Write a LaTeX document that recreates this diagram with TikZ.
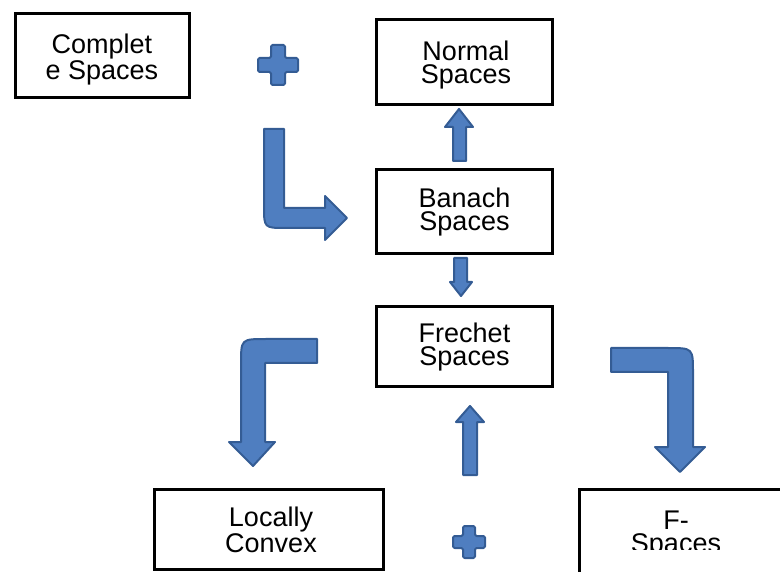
\documentclass[tikz,border=0pt]{standalone}
\usepackage{fontspec}
\setmainfont{Liberation Sans}
\definecolor{arrowfill}{RGB}{79,126,192}
\definecolor{arrowline}{RGB}{52,92,148}
\begin{document}
\begin{tikzpicture}[x=1pt,y=-1pt,
  box/.style={draw=black,line width=3pt,rectangle,inner sep=0pt},
  txt/.style={inner sep=0pt,align=center,font=\fontsize{27}{23}\selectfont},
  blockarrow/.style={fill=arrowfill,draw=arrowline,line width=2pt,line join=round}]
\useasboundingbox (0,0) rectangle (780,572);
\clip (0,0) rectangle (780,572);
% boxes
\node[box,minimum width=174pt,minimum height=84pt] (complete) at (102.5,55.5) {};
\node[box,minimum width=176pt,minimum height=85pt] (normal) at (464.5,62) {};
\node[box,minimum width=176pt,minimum height=84pt] (banach) at (464.5,211.5) {};
\node[box,minimum width=176pt,minimum height=80pt] (frechet) at (464.5,346.5) {};
\node[box,minimum width=229pt,minimum height=80pt] (locally) at (269,529.5) {};
\node[box,minimum width=230pt,minimum height=100pt] (fspaces) at (694,539) {};
% texts
\node[txt] (completetext) at (102,59.5) {Complet\\e Spaces};
\node[txt] (normaltext) at (466,65) {Normal\\Spaces};
\node[txt] (banachtext) at (464.5,212) {Banach\\Spaces};
\node[txt] (frechettext) at (464.5,347) {Frechet\\Spaces};
\node[txt] (locallytext) at (271,530) {Locally\\Convex};
\begin{scope}
  \clip (580,490) rectangle (780,549);
  \node[txt] (ftext) at (676,535) {F-\\Spaces};
\end{scope}
% plus signs
\begin{scope}[shift={(278,65)}]
  \draw[blockarrow,rounded corners=1.5pt] (-7,-20) -- (7,-20) -- (7,-7) -- (20,-7) -- (20,7) -- (7,7) -- (7,20) -- (-7,20) -- (-7,7) -- (-20,7) -- (-20,-7) -- (-7,-7) -- cycle;
\end{scope}
\begin{scope}[shift={(469,542)}]
  \draw[blockarrow,rounded corners=1.5pt] (-6,-16) -- (6,-16) -- (6,-6) -- (16,-6) -- (16,6) -- (6,6) -- (6,16) -- (-6,16) -- (-6,6) -- (-16,6) -- (-16,-6) -- (-6,-6) -- cycle;
\end{scope}
% bent arrow Complete -> Banach
\draw[blockarrow] (264,129) -- (284,129) -- (284,208) -- (325,208) -- (325,196) -- (347,218) -- (325,240) -- (325,228) -- (286,228) .. controls (264,228) .. (264,206) -- cycle;
% Banach -> Normal
\draw[blockarrow] (453,161) -- (453,127) -- (445,127) -- (459,109) -- (473,127) -- (466,127) -- (466,161) -- cycle;
% Banach -> Frechet
\draw[blockarrow] (454,258) -- (467,258) -- (467,282) -- (472,282) -- (461,296) -- (450,282) -- (454,282) -- cycle;
% Frechet -> Locally convex
\draw[blockarrow] (317,339) -- (317,363) -- (265,363) -- (265,442) -- (275,442) -- (253,466) -- (229,442) -- (241,442) -- (241,364) .. controls (241,339) .. (266,339) -- cycle;
% Frechet -> F-spaces
\draw[blockarrow] (611,348) -- (668,348) .. controls (693,348) .. (693,373) -- (693,447) -- (705,447) -- (680,472) -- (655,447) -- (668,447) -- (668,372) -- (611,372) -- cycle;
% plus -> Frechet
\draw[blockarrow] (463,475) -- (463,422) -- (456,422) -- (470,406) -- (484,422) -- (477,422) -- (477,475) -- cycle;
\end{tikzpicture}
\end{document}
